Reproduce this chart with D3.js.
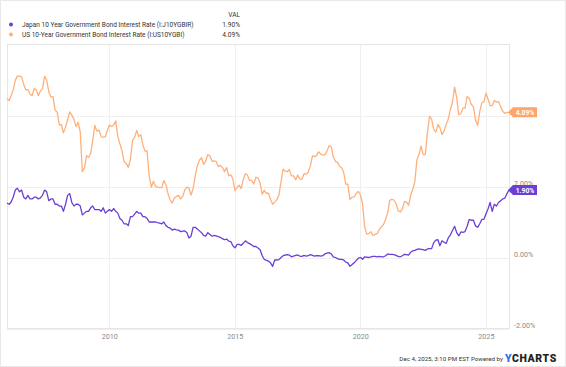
<!DOCTYPE html>
<html><head><meta charset="utf-8">
<script src="https://cdn.jsdelivr.net/npm/d3@7/dist/d3.min.js"></script>
<style>
html,body{margin:0;padding:0;background:#fff;}
svg{display:block;font-family:Roboto,"Noto Sans",sans-serif;}
</style></head>
<body><svg id="c" width="566" height="367"></svg>
<script>
// Monthly observations, first = Dec 2005, last = Dec 2025
const firstMonth = "2005-12-04";
const seriesNames = ["Japan 10 Year Government Bond Interest Rate (I:J10YGBIR)", "US 10-Year Government Bond Interest Rate (I:US10YGBI)"];
const lastValues = ["1.90%", "4.09%"];
const usYield = [4.47,
4.42,4.57,4.72,4.99,5.11,5.11,5.09,4.88,4.72,4.73,4.60,4.56,
4.76,4.72,4.56,4.69,4.75,5.10,5.00,4.67,4.52,4.53,4.15,4.10,
3.74,3.74,3.51,3.68,3.88,4.10,4.01,3.89,3.69,3.81,3.53,2.42,
2.52,2.87,2.82,2.93,3.29,3.72,3.56,3.59,3.40,3.39,3.40,3.59,
3.73,3.69,3.73,3.85,3.42,3.20,3.01,2.70,2.65,2.54,2.76,3.29,
3.39,3.58,3.41,3.46,3.17,3.00,3.00,2.30,1.98,2.15,2.01,1.98,
1.97,1.97,2.17,2.05,1.80,1.62,1.53,1.68,1.72,1.75,1.65,1.72,
1.91,1.98,1.96,1.76,1.93,2.30,2.58,2.74,2.81,2.62,2.72,2.90,
2.86,2.71,2.72,2.71,2.56,2.60,2.54,2.42,2.53,2.30,2.33,2.21,
1.88,1.98,2.04,1.94,2.20,2.36,2.32,2.17,2.17,2.07,2.26,2.24,
2.09,1.78,1.89,1.81,1.81,1.64,1.50,1.56,1.63,1.76,2.14,2.49,
2.43,2.42,2.48,2.30,2.30,2.19,2.32,2.21,2.20,2.36,2.35,2.40,
2.58,2.86,2.84,2.87,2.98,2.91,2.89,2.89,3.00,3.15,3.12,2.83,
2.71,2.68,2.57,2.53,2.40,2.07,2.06,1.63,1.70,1.71,1.81,1.86,
1.76,1.50,0.87,0.66,0.67,0.73,0.62,0.65,0.68,0.79,0.87,0.93,
1.08,1.26,1.61,1.64,1.62,1.52,1.32,1.28,1.37,1.58,1.56,1.47,
1.76,1.93,2.13,2.75,2.90,3.14,2.90,2.90,3.52,3.98,3.89,3.62,
3.53,3.75,3.66,3.46,3.57,3.75,3.90,4.17,4.38,4.80,4.50,4.02,
4.06,4.21,4.21,4.54,4.48,4.31,4.25,3.87,3.72,4.10,4.36,4.39,
4.63,4.45,4.28,4.28,4.42,4.38,4.39,4.26,4.12,4.06,4.09,4.09];
const japanYield = [1.53,
1.50,1.57,1.70,1.90,1.95,1.85,1.90,1.70,1.65,1.75,1.65,1.65,
1.70,1.70,1.65,1.68,1.75,1.90,1.85,1.60,1.65,1.65,1.50,1.50,
1.45,1.45,1.30,1.50,1.75,1.80,1.55,1.45,1.50,1.50,1.45,1.20,
1.25,1.30,1.30,1.40,1.45,1.35,1.35,1.35,1.30,1.40,1.25,1.30,
1.35,1.30,1.38,1.30,1.25,1.10,1.05,0.95,0.95,0.90,1.15,1.15,
1.22,1.30,1.25,1.25,1.15,1.15,1.10,1.00,1.00,1.00,1.00,0.98,
0.97,0.95,1.00,0.90,0.85,0.83,0.77,0.80,0.78,0.77,0.73,0.74,
0.75,0.70,0.55,0.60,0.85,0.85,0.80,0.75,0.70,0.62,0.60,0.70,
0.65,0.60,0.62,0.61,0.59,0.57,0.53,0.50,0.52,0.46,0.45,0.33,
0.27,0.37,0.37,0.34,0.40,0.47,0.42,0.39,0.35,0.31,0.31,0.27,
0.22,0.05,-0.05,-0.08,-0.10,-0.15,-0.25,-0.07,-0.07,-0.06,0.00,0.05,
0.07,0.08,0.07,0.02,0.04,0.06,0.07,0.04,0.03,0.06,0.04,0.05,
0.08,0.06,0.04,0.05,0.05,0.04,0.05,0.10,0.12,0.14,0.10,0.02,
0.00,-0.03,-0.05,-0.05,-0.07,-0.13,-0.15,-0.25,-0.20,-0.15,-0.08,-0.02,
0.00,-0.05,0.02,0.01,0.00,0.02,0.03,0.03,0.02,0.03,0.02,0.02,
0.05,0.10,0.09,0.09,0.08,0.06,0.03,0.02,0.05,0.09,0.08,0.07,
0.15,0.19,0.20,0.23,0.24,0.23,0.22,0.20,0.24,0.25,0.25,0.42,
0.49,0.50,0.33,0.47,0.43,0.40,0.55,0.64,0.76,0.88,0.70,0.61,
0.72,0.71,0.73,0.88,1.07,1.05,1.05,0.89,0.85,0.95,1.07,1.08,
1.23,1.38,1.55,1.30,1.50,1.45,1.55,1.60,1.65,1.67,1.80,1.90];
const yTicks = [-2, 0, 2, 4];
const xTickYears = [2010, 2015, 2020, 2025];
const footerText = "Dec 4, 2025, 3:10 PM EST Powered by";

const colors = ["#6b3fd4", "#ffb07a"];
const badgeColors = ["#6b3fd4", "#ffa56a"];

const svg = d3.select("#c");
const W = 566, H = 367;
const L = 7, R = 509, T = 44.5, B = 328.5;

svg.append("rect").attr("x",0.5).attr("y",0.5).attr("width",W-1).attr("height",H-1)
  .attr("fill","#fff").attr("stroke","#e9e9e9");

const parse = d3.timeParse("%Y-%m-%d");
const start = parse(firstMonth);
const dates = usYield.map((_, i) => d3.timeMonth.offset(start, i));

const x = d3.scaleTime().domain([start, dates[dates.length-1]]).range([L, R]);
const y = d3.scaleLinear().domain([-2, 6]).range([B, T]);

const lastVals = [japanYield[japanYield.length-1], usYield[usYield.length-1]];

// grid
const g = svg.append("g");
g.selectAll("line.h").data(yTicks).join("line")
  .attr("x1", L).attr("x2", R)
  .attr("y1", d => Math.round(y(d)) + 0.5).attr("y2", d => Math.round(y(d)) + 0.5)
  .attr("stroke", "#efefef");
g.selectAll("line.v").data(xTickYears).join("line")
  .attr("y1", T).attr("y2", B)
  .attr("x1", d => Math.round(x(new Date(d, 0, 1))) + 0.5)
  .attr("x2", d => Math.round(x(new Date(d, 0, 1))) + 0.5)
  .attr("stroke", "#efefef");
// frame
svg.append("rect").attr("x", L + 0.5).attr("y", T).attr("width", R - L).attr("height", B - T)
  .attr("fill", "none").attr("stroke", "#e6e6e6");

// axes via d3 axis
const xAxis = d3.axisBottom(x).tickValues(xTickYears.map(yr => new Date(yr, 0, 1)))
  .tickFormat(d3.timeFormat("%Y")).tickSize(0).tickPadding(0);
const xa = svg.append("g").attr("transform", `translate(0,${B})`).call(xAxis);
xa.select(".domain").remove();
xa.selectAll("text").attr("fill", "#8a8a8a").attr("font-size", "7.2px")
  .attr("font-family", "Roboto, sans-serif").attr("dy", "0").attr("y", 10.5);

// tick labels hidden where a value badge sits on top of them (as in the reference)
const hiddenByBadge = d => lastVals.some(v => Math.abs(y(v) - (y(d) - 3.5)) < 6);
const yAxis = d3.axisRight(y).tickValues(yTicks)
  .tickFormat(d => hiddenByBadge(d) ? "" : d.toFixed(2) + "%").tickSize(0).tickPadding(0);
const ya = svg.append("g").attr("transform", `translate(${R + 5},0)`).call(yAxis);
ya.select(".domain").remove();
ya.selectAll("text").attr("fill", "#8a8a8a").attr("font-size", "7.2px")
  .attr("font-family", "Roboto, sans-serif").attr("dy", "-1px").attr("dominant-baseline", "auto");

// lines
const line = d3.line().x((d, i) => x(dates[i])).y(d => y(d)).curve(d3.curveLinear);
svg.append("path").datum(usYield).attr("d", line).attr("fill", "none")
  .attr("stroke", colors[1]).attr("stroke-width", 1.3).attr("stroke-linejoin", "round");
svg.append("path").datum(japanYield).attr("d", line).attr("fill", "none")
  .attr("stroke", colors[0]).attr("stroke-width", 1.3).attr("stroke-linejoin", "round");

// badges
lastVals.forEach((v, i) => {
  const cy = y(v);
  const x0 = R - 1, x1 = R + 4, x2 = R + 28, h = 5;
  svg.append("path")
    .attr("d", `M${x0},${cy} L${x1},${cy-h} L${x2},${cy-h} L${x2},${cy+h} L${x1},${cy+h} Z`)
    .attr("fill", badgeColors[i]);
  svg.append("text").attr("x", (x1 + x2) / 2).attr("y", cy + 2.5)
    .attr("text-anchor", "middle").attr("fill", "#fff").attr("font-size", "6.8px")
    .attr("font-weight", "bold").text(lastValues[i]);
});

// legend
svg.append("text").attr("x", 240).attr("y", 16.5).attr("text-anchor", "end")
  .attr("font-size", "6.6px").attr("fill", "#333").text("VAL");
seriesNames.forEach((n, i) => {
  const ly = 24.5 + i * 10;
  svg.append("circle").attr("cx", 11).attr("cy", ly).attr("r", 2).attr("fill", colors[i]);
  svg.append("text").attr("x", 22).attr("y", ly + 2.4).attr("font-size", "6.5px").attr("fill", "#333").text(n);
  svg.append("text").attr("x", 240).attr("y", ly + 2.4).attr("text-anchor", "end")
    .attr("font-size", "6.6px").attr("fill", "#333").text(lastValues[i]);
});

// footer
svg.append("text").attr("x", 503).attr("y", 360.5).attr("text-anchor", "end")
  .attr("font-size", "6.2px").attr("fill", "#333").text(footerText);
const logo = svg.append("text").attr("x", 505).attr("y", 362).attr("font-size", "10.5px")
  .attr("font-weight", "900").attr("letter-spacing", "0.6px");
logo.append("tspan").attr("fill", "#2f6ff0").text("Y");
logo.append("tspan").attr("fill", "#222").text("CHARTS");
</script></body></html>
